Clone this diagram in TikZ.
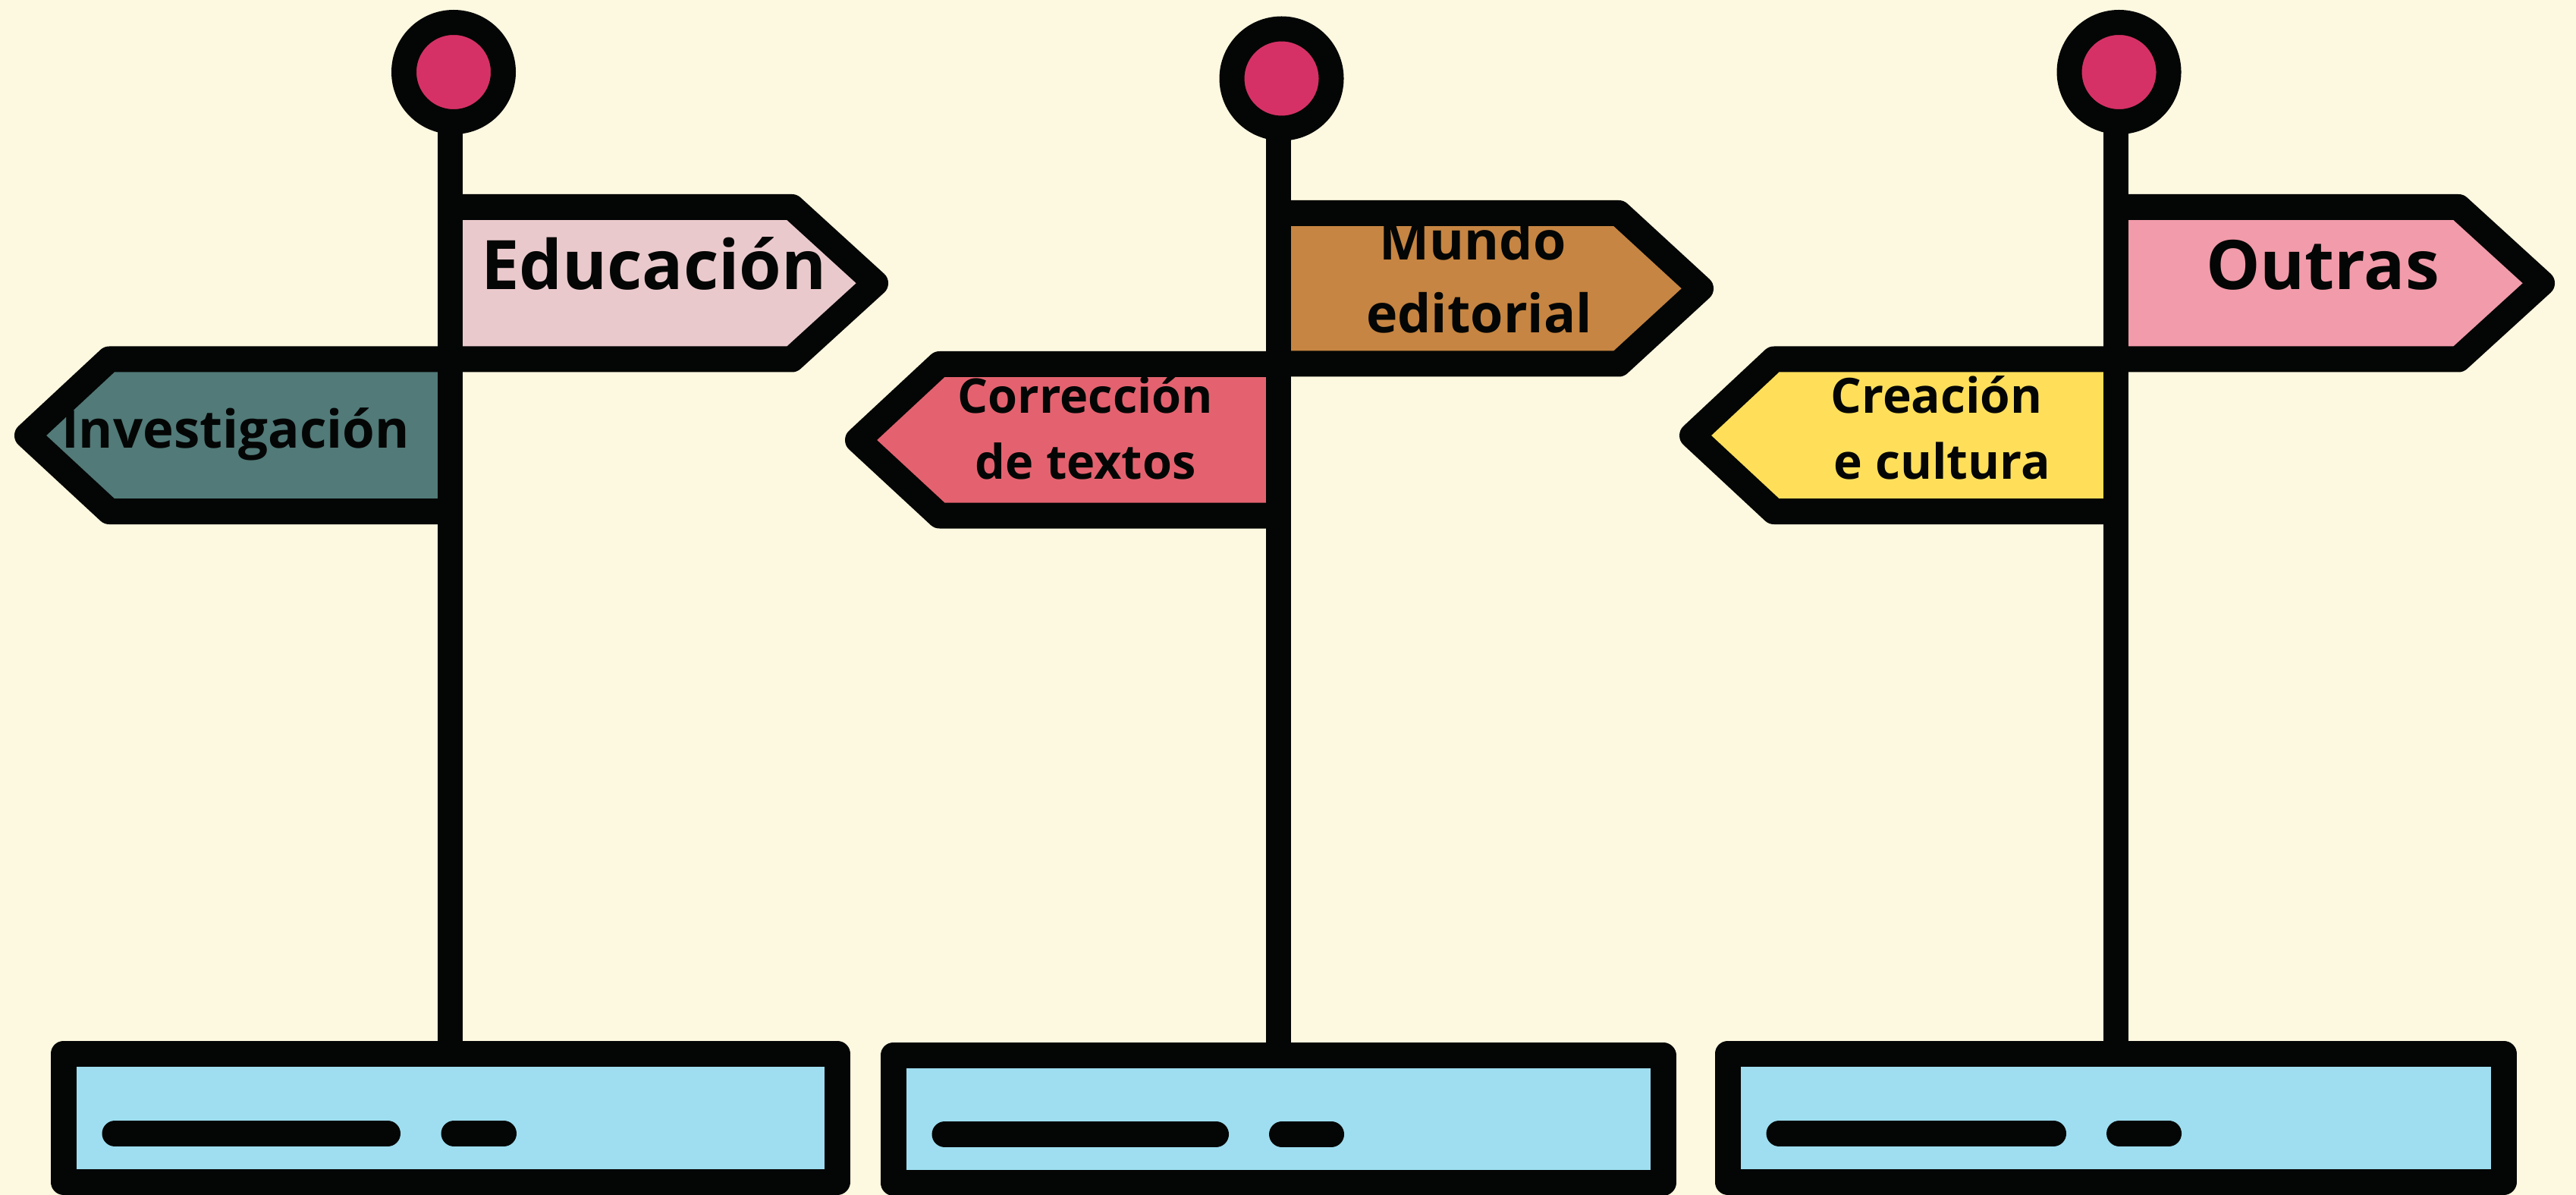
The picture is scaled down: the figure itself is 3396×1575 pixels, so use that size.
\documentclass[tikz,border=0pt]{standalone}
\usepackage{fontspec}
\setmainfont{Open Sans}
\definecolor{bg}{HTML}{FDF8E0}
\definecolor{ink}{HTML}{040605}
\definecolor{knob}{HTML}{D63166}
\definecolor{edu}{HTML}{EAC9CC}
\definecolor{inv}{HTML}{517A78}
\definecolor{mundo}{HTML}{C68542}
\definecolor{corr}{HTML}{E4626F}
\definecolor{outras}{HTML}{F29BAA}
\definecolor{crea}{HTML}{FFDF5A}
\definecolor{basec}{HTML}{9EDEF0}
\tikzset{
  signbox/.style={draw=ink, line width=3.4pt, line join=round},
  polebar/.style={draw=ink, line width=3.3pt},
  knobc/.style={draw=ink, fill=knob, line width=3.3pt},
  basebox/.style={draw=ink, fill=basec, line width=3.4pt, line join=round},
  dashbar/.style={draw=ink, line width=3.4pt, line cap=round},
  lbl/.style={inner sep=0pt, anchor=base, text=ink, font=\bfseries},
}
\begin{document}
\begin{tikzpicture}[x=0.1pt, y=-0.1pt]
\useasboundingbox (0,0) rectangle (3396,1575);
\fill[bg] (0,0) rectangle (3396,1575);

% ---------- Post 1 ----------
\fill[edu] (593.5,273) -- (1044,273) -- (1154,373.25) -- (1044,473.5) -- (593.5,473.5) -- cycle;
\draw[signbox] (593.5,273) -- (1044,273) -- (1154,373.25) -- (1044,473.5) -- (593.5,473.5);
\fill[inv] (593.5,473.5) -- (144,473.5) -- (36,574) -- (144,674) -- (593.5,674) -- cycle;
\draw[signbox] (593.5,473.5) -- (144,473.5) -- (36,574) -- (144,674) -- (593.5,674);
\coordinate (p1top) at (593.5,120);
\coordinate (p1bot) at (593.5,1389);
\draw[polebar] (p1top) -- (p1bot);
\node[knobc, circle, minimum size=13.1pt, inner sep=0pt] (k1) at (598,95) {};
\draw[basebox] (83.5,1389) rectangle (1104,1557.5);
\coordinate (b1a) at (151.5,1494); \coordinate (b1b) at (511,1494);
\coordinate (b1c) at (598.5,1494); \coordinate (b1d) at (664,1494);
\draw[dashbar] (b1a) -- (b1b);
\draw[dashbar] (b1c) -- (b1d);
\node[lbl, font=\bfseries\fontsize{9}{12}\selectfont] (educ) at (862,381.5) {Educación};
\node[lbl, font=\bfseries\fontsize{6.9}{9.4}\selectfont] (inve) at (310.5,590.5) {Investigación};

% ---------- Post 2 ----------
\fill[mundo] (1685,281) -- (2134,281) -- (2242,380.25) -- (2134,479.5) -- (1685,479.5) -- cycle;
\draw[signbox] (1685,281) -- (2134,281) -- (2242,380.25) -- (2134,479.5) -- (1685,479.5);
\fill[corr] (1685,480) -- (1238.5,480) -- (1131,580) -- (1238.5,679.5) -- (1685,679.5) -- cycle;
\draw[signbox] (1685,480) -- (1238.5,480) -- (1131,580) -- (1238.5,679.5) -- (1685,679.5);
\coordinate (p2top) at (1685,130);
\coordinate (p2bot) at (1685,1391);
\draw[polebar] (p2top) -- (p2bot);
\node[knobc, circle, minimum size=13.1pt, inner sep=0pt] (k2) at (1689.5,103.5) {};
\draw[basebox] (1177.5,1391) rectangle (2192.5,1558.5);
\coordinate (b2a) at (1245.5,1495); \coordinate (b2b) at (1603,1495);
\coordinate (b2c) at (1690,1495); \coordinate (b2d) at (1755,1495);
\draw[dashbar] (b2a) -- (b2b);
\draw[dashbar] (b2c) -- (b2d);
\node[lbl, font=\bfseries\fontsize{7}{9.5}\selectfont] (mun1) at (1941.5,343) {Mundo};
\node[lbl, font=\bfseries\fontsize{7}{9.5}\selectfont] (mun2) at (1950,439) {editorial};
\node[lbl, font=\bfseries\fontsize{6.3}{8.7}\selectfont] (cor1) at (1431,544) {Corrección};
\node[lbl, font=\bfseries\fontsize{6.3}{8.7}\selectfont] (cor2) at (1431,631) {de textos};

% ---------- Post 3 ----------
\fill[outras] (2789.5,273) -- (3241,273) -- (3351,373.25) -- (3241,473.5) -- (2789.5,473.5) -- cycle;
\draw[signbox] (2789.5,273) -- (3241,273) -- (3351,373.25) -- (3241,473.5) -- (2789.5,473.5);
\fill[crea] (2789.5,473.5) -- (2338.5,473.5) -- (2231,574) -- (2338.5,674) -- (2789.5,674) -- cycle;
\draw[signbox] (2789.5,473.5) -- (2338.5,473.5) -- (2231,574) -- (2338.5,674) -- (2789.5,674);
\coordinate (p3top) at (2789.5,120);
\coordinate (p3bot) at (2789.5,1389);
\draw[polebar] (p3top) -- (p3bot);
\node[knobc, circle, minimum size=13.1pt, inner sep=0pt] (k3) at (2793.5,95) {};
\draw[basebox] (2277.5,1389) rectangle (3301,1557.5);
\coordinate (b3a) at (2345.5,1494); \coordinate (b3b) at (2707,1494);
\coordinate (b3c) at (2794,1494); \coordinate (b3d) at (2859,1494);
\draw[dashbar] (b3a) -- (b3b);
\draw[dashbar] (b3c) -- (b3d);
\node[lbl, font=\bfseries\fontsize{9}{12}\selectfont] (outr) at (3062,381.5) {Outras};
\node[lbl, font=\bfseries\fontsize{6.4}{8.7}\selectfont] (cre1) at (2553,544) {Creación};
\node[lbl, font=\bfseries\fontsize{6.4}{8.7}\selectfont] (cre2) at (2560.5,631) {e cultura};
\end{tikzpicture}
\end{document}
